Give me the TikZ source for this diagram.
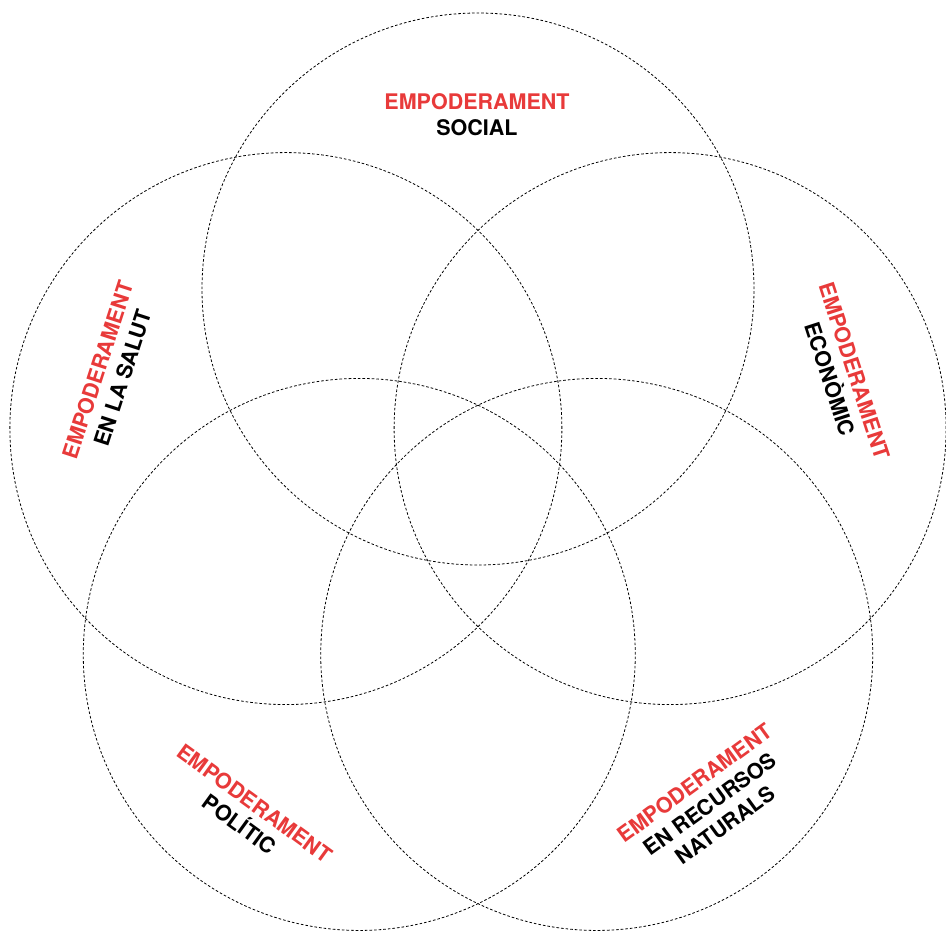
\documentclass[tikz,border=0pt]{standalone}
\usepackage{fontspec}
\usetikzlibrary{calc}
\setmainfont{TeX Gyre Heros}
\definecolor{empred}{RGB}{232,58,58}
\tikzset{
  ring/.style={draw=black, line width=0.8pt, dash pattern=on 2.6pt off 2pt},
  lbl/.style={align=center, inner sep=0pt, font=\fontsize{21.5}{26}\selectfont\bfseries}
}
\newcommand{\emp}{\textcolor{empred}{EMPODERAMENT}}
\begin{document}
\begin{tikzpicture}[x=1pt,y=-1pt]
\useasboundingbox (0,0) rectangle (946,930);
\coordinate (C) at (478,491);
\foreach \a/\n in {90/ct,162/cl,18/cr,234/cbl,306/cbr}{
  \draw[ring] ($(C)+(\a:202pt)$) circle[radius=276pt];
}
\node[lbl] (social) at (477,115) {\emp\\SOCIAL};
\node[lbl, rotate=72] (salut) at (110,374) {\emp\\EN LA SALUT};
\node[lbl, rotate=-72] (econ) at (842,375) {\emp\\ECONÒMIC};
\node[lbl, rotate=-36] (polit) at (247,814) {\emp\\POLÍTIC};
\node[lbl, rotate=36] (recur) at (710,804) {\emp\\EN RECURSOS\\NATURALS};
\end{tikzpicture}
\end{document}
